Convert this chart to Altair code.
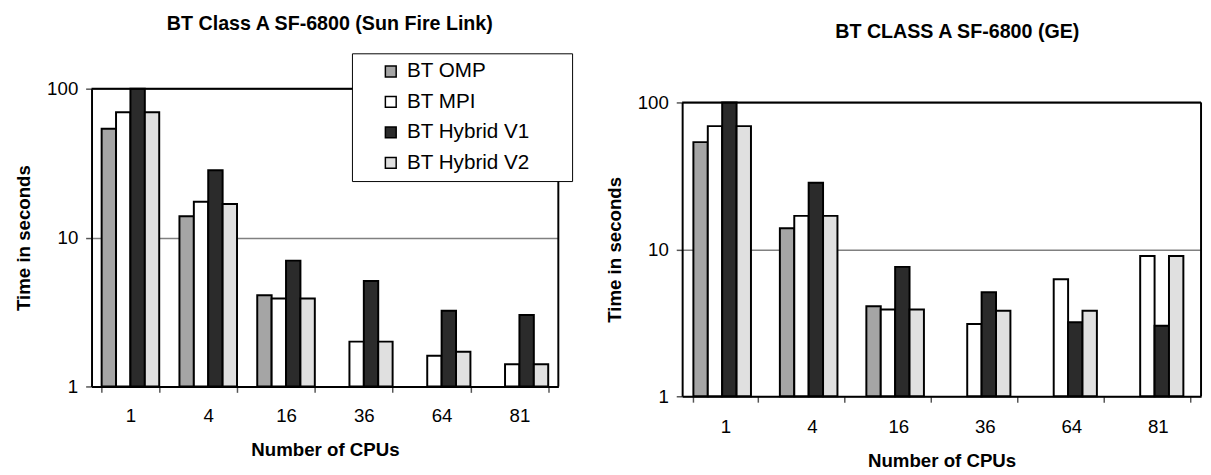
import altair as alt
import pandas as pd

FONT = "Liberation Sans"

cpus = ["1", "4", "16", "36", "64", "81"]
series = ["BT OMP", "BT MPI", "BT Hybrid V1", "BT Hybrid V2"]
colors = ["#a5a5a5", "#ffffff", "#2b2b2b", "#e0e0e0"]

# Left: SF-6800 (Sun Fire Link)
sfl_omp = [53.8, 13.9, 4.1, None, None, None]
sfl_mpi = [69.5, 17.4, 3.9, 2.0, 1.61, 1.41]
sfl_v1 = [100, 28.3, 7.0, 5.1, 3.22, 3.02]
sfl_v2 = [69.5, 16.8, 3.9, 2.0, 1.71, 1.41]

# Right: SF-6800 (GE)
ge_omp = [53.7, 13.9, 4.1, None, None, None]
ge_mpi = [69.0, 16.9, 3.9, 3.1, 6.25, 9.0]
ge_v1 = [100, 28.4, 7.6, 5.1, 3.19, 3.02]
ge_v2 = [69.0, 16.9, 3.9, 3.82, 3.82, 9.0]


def long_df(cols):
    rows = []
    for s, vals in zip(series, cols):
        for c, v in zip(cpus, vals):
            if v is not None:
                rows.append({"cpus": c, "series": s, "time": v})
    return pd.DataFrame(rows)


df_left = long_df([sfl_omp, sfl_mpi, sfl_v1, sfl_v2])
df_right = long_df([ge_omp, ge_mpi, ge_v1, ge_v2])
border_df = pd.DataFrame({"k": [0]})


def panel(df, w, h, yrange, title, title_offset, title_dx, legend, lab_pad, tit_pad):
    x = alt.X(
        "cpus:N",
        sort=cpus,
        scale=alt.Scale(domain=cpus, paddingInner=0.26, paddingOuter=0.13),
        axis=alt.Axis(
            title="Number of CPUs",
            labelAngle=0,
            tickBand="extent",
            labelPadding=lab_pad,
            titlePadding=tit_pad,
        ),
    )
    y = alt.Y(
        "time:Q",
        scale=alt.Scale(type="log", domain=[1, 100], range=yrange, nice=False),
        axis=alt.Axis(
            values=[1, 10, 100],
            format="d",
            title="Time in seconds",
            grid=True,
            labelPadding=8,
            titlePadding=13,
        ),
    )
    bars = alt.Chart(df).mark_bar(stroke="black", strokeWidth=2).encode(
        x=x,
        xOffset=alt.XOffset(
            "series:N",
            sort=series,
            scale=alt.Scale(domain=series, paddingInner=0, paddingOuter=0),
        ),
        y=y,
        y2=alt.datum(1),
        color=alt.Color(
            "series:N",
            sort=series,
            scale=alt.Scale(domain=series, range=colors),
            legend=legend,
        ),
    )
    top_rule = alt.Chart(border_df).mark_rule(color="black", strokeWidth=2).encode(
        y=alt.datum(100), x=alt.value(0), x2=alt.value(w)
    )
    right_rule = alt.Chart(border_df).mark_rule(color="black", strokeWidth=2).encode(
        x=alt.value(w), y=alt.datum(1), y2=alt.datum(100)
    )
    return alt.layer(bars, top_rule, right_rule).properties(
        width=w,
        height=h,
        title=alt.TitleParams(title, offset=title_offset, dx=title_dx),
    )


NB = "\u00a0" * 6 + "\u200b"

legend = alt.Legend(
    title=None,
    orient="none",
    legendX=265,
    legendY=-36,
    direction="vertical",
    fillColor="white",
    strokeColor="black",
    padding=8,
    symbolType="square",
    symbolSize=121,
    symbolStrokeColor="black",
    symbolStrokeWidth=1.5,
    symbolOffset=21,
    labelOffset=6,
    labelFont=FONT,
    labelFontSize=21,
    labelColor="black",
    labelLimit=400,
    rowPadding=9,
    labelExpr="datum.label + '" + NB + "'",
)

left = panel(df_left, 475, 303, [303, 0], "BT Class A SF-6800 (Sun Fire Link)", 19, 5, legend, 15, 15)
right = panel(df_right, 528, 313, [313, 14], "BT CLASS A  SF-6800 (GE)", 48, 16, None, 16, 15)

chart = (
    alt.hconcat(left, right, spacing=32)
    .resolve_scale(color="independent", x="independent", y="independent")
    .properties(padding={"left": 6, "top": 2, "right": 0, "bottom": 0})
    .configure_axis(
        labelFont=FONT,
        titleFont=FONT,
        labelFontSize=19,
        titleFontSize=19,
        titleFontWeight="bold",
        labelColor="black",
        titleColor="black",
        domainColor="black",
        domainWidth=2,
        tickColor="#555555",
        tickWidth=1.5,
        tickSize=6,
        gridColor="#808080",
        gridWidth=1.5,
    )
    .configure_title(font=FONT, fontSize=20, fontWeight="bold", color="black")
    .configure_view(stroke="transparent")
    .configure_legend(labelFont=FONT)
)

chart.save("out.html", embed_options={"renderer": "svg", "actions": False})
